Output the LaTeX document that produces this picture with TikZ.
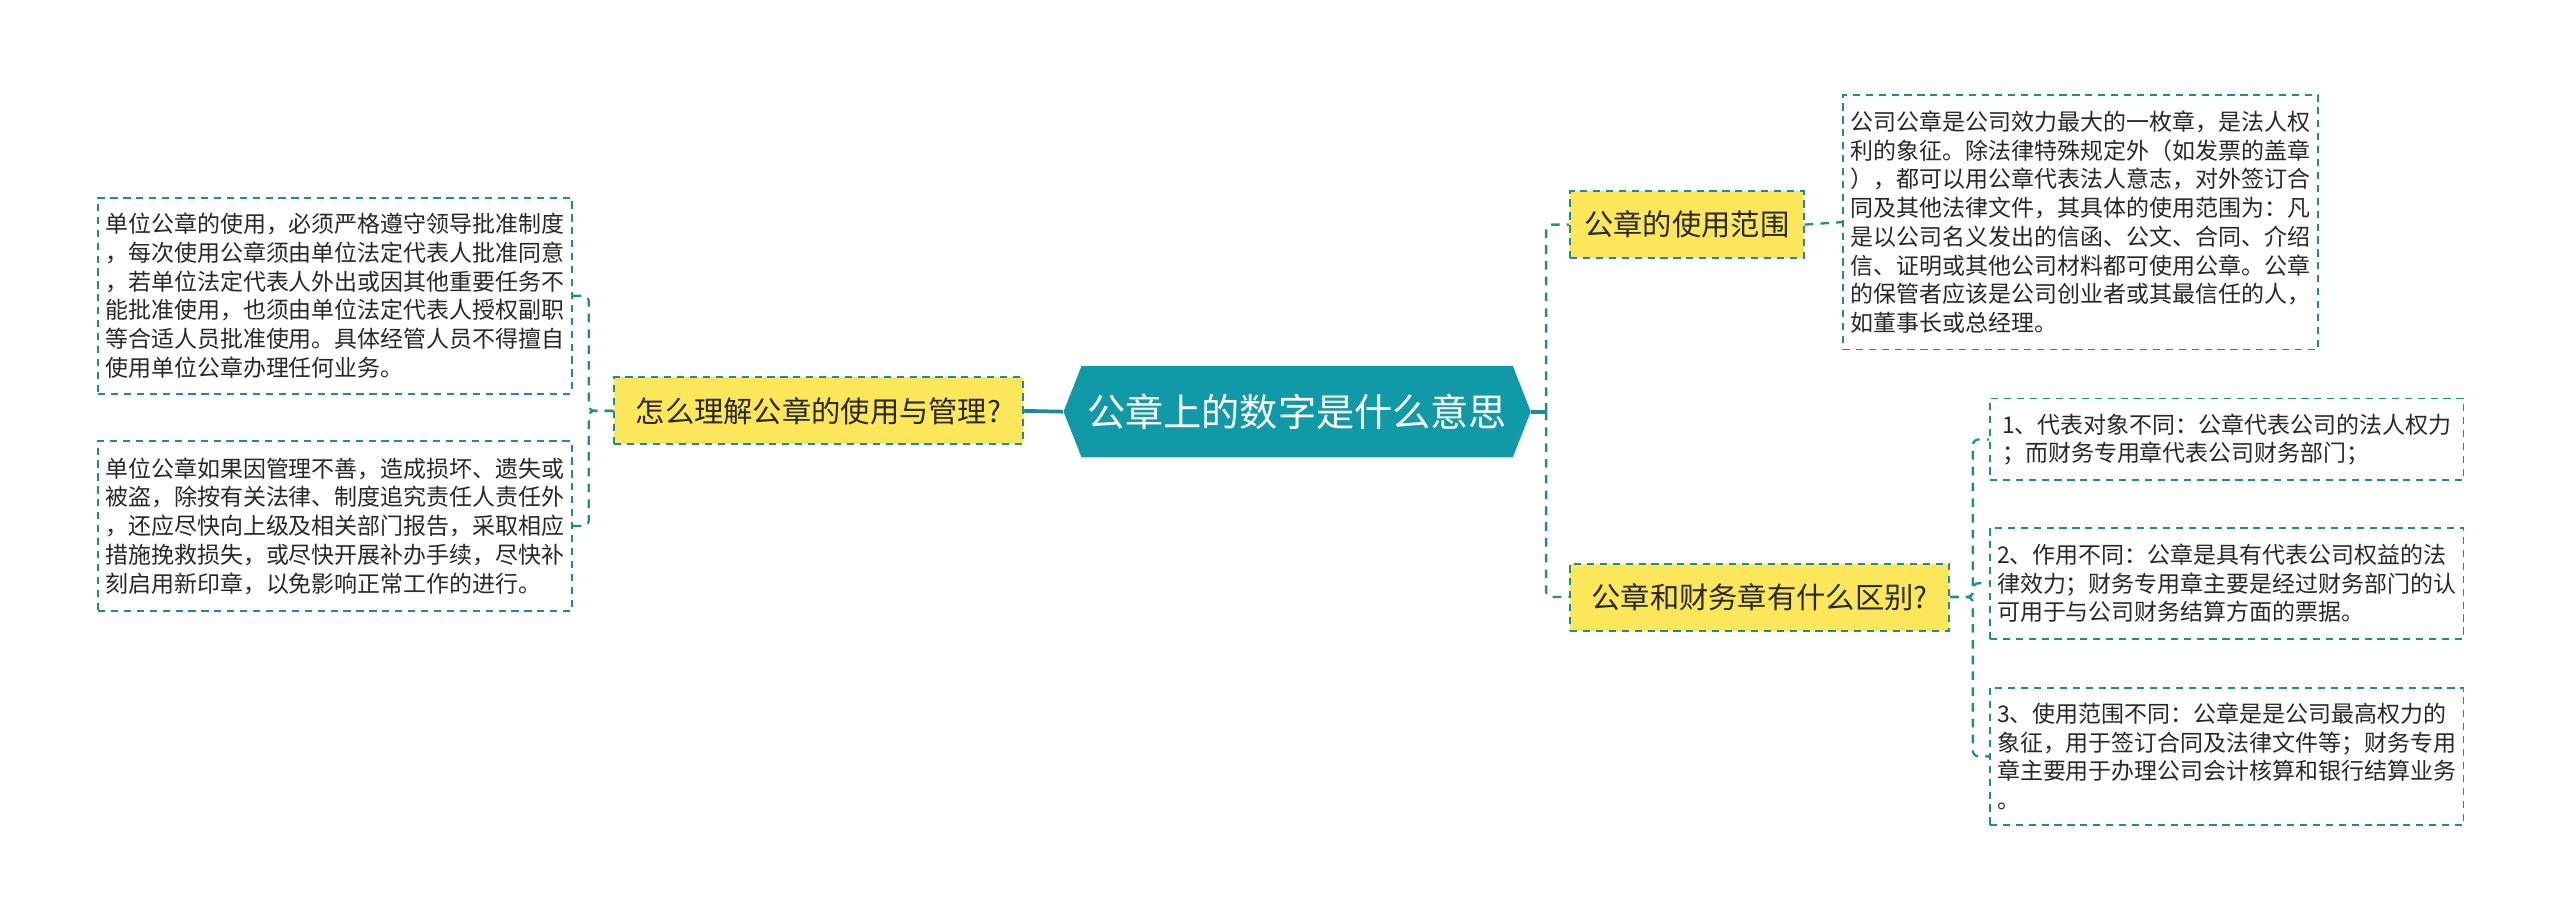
\documentclass[tikz,border=0pt]{standalone}
\usepackage{fontspec}
\usepackage{tikz}
\usetikzlibrary{shapes.symbols}
\newfontfamily\cjk{Noto Sans CJK SC}
\definecolor{mapline}{RGB}{30,140,152}
\definecolor{maphead}{RGB}{16,154,168}
\definecolor{mapyellow}{RGB}{252,230,90}
\definecolor{maptext}{RGB}{40,40,40}
\tikzset{
  head/.style={signal, signal to=east and west, signal pointer angle=137, fill=maphead, text=white,
    font=\cjk\fontsize{13.3}{16}\selectfont, minimum width=5.72cm, minimum height=1.12cm, inner sep=0pt},
  topic/.style={draw=mapline, line width=0.7pt, dash pattern=on 2.5pt off 2pt, fill=mapyellow, text=maptext,
    font=\cjk\fontsize{10.2}{12}\selectfont, minimum height=0.82cm, inner sep=0pt},
  note/.style={draw=mapline, line width=0.6pt, dash pattern=on 2.5pt off 2pt, fill=white, text=maptext, align=left,
    font=\cjk\fontsize{8}{10}\selectfont, minimum width=5.8cm, inner sep=0pt},
  link/.style={draw=mapline, line width=0.8pt, dash pattern=on 3pt off 2.5pt, rounded corners=2pt},
  trunk/.style={draw=mapline, line width=1.3pt}
}
\begin{document}
\begin{tikzpicture}
	\useasboundingbox (0,0) rectangle (31.34,11.30);
	\node[head] (root) at (15.88,6.26) {公章上的数字是什么意思};
	\node[topic, minimum width=5.0cm] (q1) at (10.02,6.27) {怎么理解公章的使用与管理?};
	\node[topic, minimum width=2.86cm] (q2) at (20.65,8.55) {公章的使用范围};
	\node[topic, minimum width=4.64cm] (q3) at (21.54,3.99) {公章和财务章有什么区别?};
	\node[note, minimum height=2.4cm] (d1) at (4.10,7.68) {单位公章的使用，必须严格遵守领导批准制度\\，每次使用公章须由单位法定代表人批准同意\\，若单位法定代表人外出或因其他重要任务不\\能批准使用，也须由单位法定代表人授权副职\\等合适人员批准使用。具体经管人员不得擅自\\使用单位公章办理任何业务。};
	\node[note, minimum height=2.08cm] (d2) at (4.10,4.86) {单位公章如果因管理不善，造成损坏、遗失或\\被盗，除按有关法律、制度追究责任人责任外\\，还应尽快向上级及相关部门报告，采取相应\\措施挽救损失，或尽快开展补办手续，尽快补\\刻启用新印章，以免影响正常工作的进行。};
	\node[note, minimum width=5.82cm, minimum height=3.12cm] (d3) at (25.47,8.58) {公司公章是公司效力最大的一枚章，是法人权\\利的象征。除法律特殊规定外（如发票的盖章\\），都可以用公章代表法人意志，对外签订合\\同及其他法律文件，其具体的使用范围为：凡\\是以公司名义发出的信函、公文、合同、介绍\\信、证明或其他公司材料都可使用公章。公章\\的保管者应该是公司创业者或其最信任的人，\\如董事长或总经理。};
	\node[note, minimum height=1.0cm] (d4) at (27.26,5.92) {1、代表对象不同：公章代表公司的法人权力\\；而财务专用章代表公司财务部门；};
	\node[note, minimum height=1.36cm] (d5) at (27.26,4.16) {2、作用不同：公章是具有代表公司权益的法\\律效力；财务专用章主要是经过财务部门的认\\可用于与公司财务结算方面的票据。};
	\node[note, minimum height=1.68cm] (d6) at (27.26,2.04) {3、使用范围不同：公章是是公司最高权力的\\象征，用于签订合同及法律文件等；财务专用\\章主要用于办理公司会计核算和银行结算业务\\。};
	\coordinate (rj) at ([xshift=0.18cm]root.east);
	\draw[trunk] (root.west) -- (q1.east);
	\draw[trunk] (root.east) -- (rj);
	\draw[link] (rj) |- (q2.west);
	\draw[link] (rj) |- (q3.west);
	\draw[link] (q1.west) -- ++(-0.3,0) |- (d1.east);
	\draw[link] (q1.west) -- ++(-0.3,0) |- (d2.east);
	\draw[link] (q2.east) -- (d3.west);
	\draw[link] (q3.east) -- ++(0.28,0) |- (d4.west);
	\draw[link] (q3.east) -- ++(0.28,0) |- (d5.west);
	\draw[link] (q3.east) -- ++(0.28,0) |- (d6.west);
\end{tikzpicture}
\end{document}
